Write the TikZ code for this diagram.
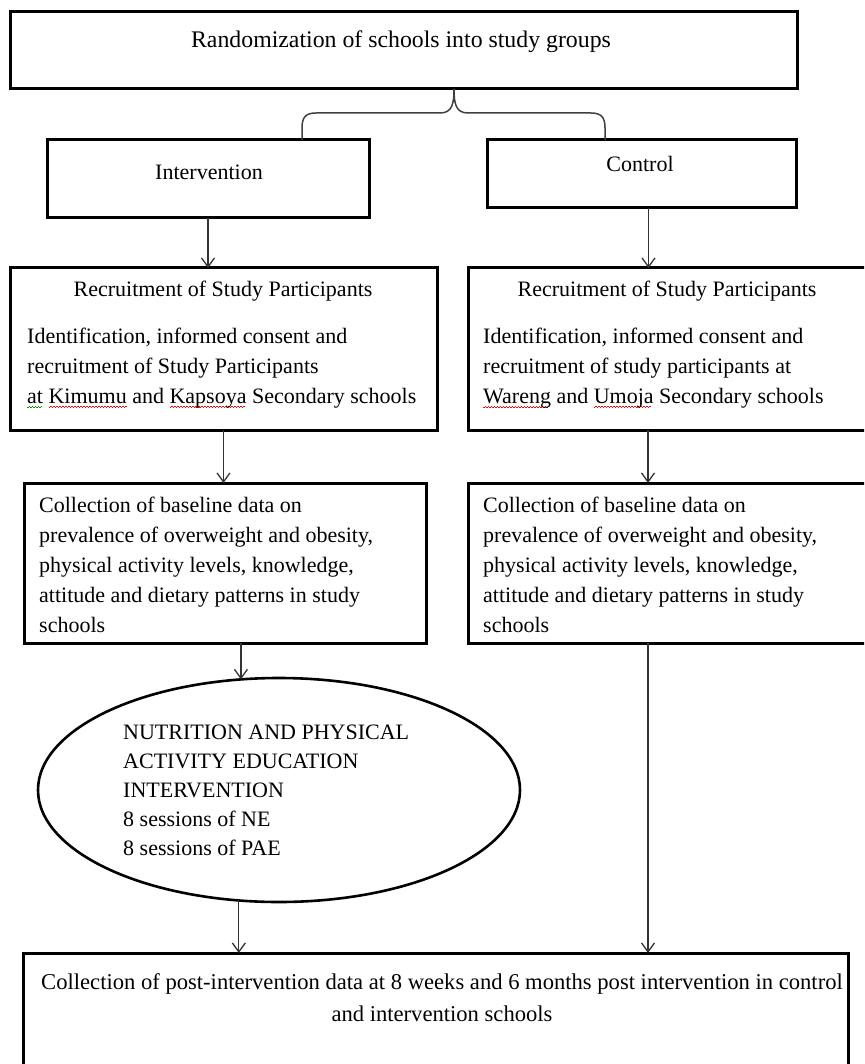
\documentclass[tikz,border=0pt]{standalone}
\usepackage{fontspec}
\setmainfont{Liberation Serif}
\usetikzlibrary{arrows.meta,shapes.geometric}

% wavy proofing underline in a given colour
\newsavebox\spellbox
\newcommand\spellmark[2]{\sbox\spellbox{#2}\rlap{\textcolor{#1}{\leaders\hbox{\rule[-5pt]{1.5pt}{1.1pt}\rule[-3.9pt]{1.5pt}{1.1pt}}\hskip\wd\spellbox}}\usebox\spellbox}

\begin{document}
\begin{tikzpicture}[x=1pt,y=-1pt,
  box/.style={draw=black, line width=3pt, inner sep=0pt, outer sep=0pt},
  oval/.style={draw=black, ellipse, line width=2.6pt, inner sep=0pt, outer sep=0pt},
  txt/.style={inner sep=0pt, font=\fontsize{22}{30}\selectfont},
  arr/.style={draw=black!80, line width=1.3pt, -{Straight Barb[length=9pt,width=13pt]}},
  brace/.style={draw=black!75, line width=1.5pt}]
\useasboundingbox (0,0) rectangle (864,1064);
\clip (0,0) rectangle (864,1064);

% top level
\node[box, minimum width=787pt, minimum height=77pt] (rand) at (403.5,50.5) {};
\node[txt, font=\fontsize{23.8}{30}\selectfont] (randt) at (401,42) {Randomization of schools into study groups};

% study arms
\node[box, minimum width=322pt, minimum height=78pt] (intv) at (208,179) {};
\node[txt] (intvt) at (209,172) {Intervention};
\node[box, minimum width=309pt, minimum height=68pt] (ctrl) at (641.5,174) {};
\node[txt] (ctrlt) at (640,164) {Control};

% brace splitting into the two arms
\coordinate (bc) at (454,89);
\coordinate (bl) at (302,140);
\coordinate (br) at (605,140);
\draw[brace] (bc) .. controls (454,104) and (452,113) .. (440,113) -- (316,113)
  .. controls (305,113) and (302,118) .. (302,128) -- (bl);
\draw[brace] (bc) .. controls (454,104) and (456,113) .. (468,113) -- (591,113)
  .. controls (602,113) and (605,118) .. (605,128) -- (br);

% recruitment
\node[box, minimum width=427pt, minimum height=162pt] (rec1) at (223.5,349) {};
\node[txt] (rec1h) at (223,291) {Recruitment of Study Participants};
\node[txt, anchor=west, align=left] (rec1b) at (27,368)
  {Identification, informed consent and\\recruitment of Study Participants\\\spellmark{green!60!black}{at} \spellmark{red}{Kimumu} and \spellmark{red}{Kapsoya} Secondary schools};
\node[box, minimum width=400pt, minimum height=162pt] (rec2) at (668,349) {};
\node[txt] (rec2h) at (667,291) {Recruitment of Study Participants};
\node[txt, anchor=west, align=left] (rec2b) at (483,368)
  {Identification, informed consent and\\recruitment of study participants at\\\spellmark{red}{Wareng} and \spellmark{red}{Umoja} Secondary schools};

% baseline data
\node[box, minimum width=402pt, minimum height=160pt] (coll1) at (225,563) {};
\node[txt, anchor=west, align=left] (coll1t) at (39,565)
  {Collection of baseline data on\\prevalence of overweight and obesity,\\physical activity levels, knowledge,\\attitude and dietary patterns in study\\schools};
\node[box, minimum width=400pt, minimum height=160pt] (coll2) at (668,563) {};
\node[txt, anchor=west, align=left] (coll2t) at (483,565)
  {Collection of baseline data on\\prevalence of overweight and obesity,\\physical activity levels, knowledge,\\attitude and dietary patterns in study\\schools};

% intervention
\node[oval, minimum width=482pt, minimum height=224pt] (nut) at (279,790) {};
\node[txt, anchor=west, align=left, font=\fontsize{22}{29}\selectfont] (nutt) at (123,790)
  {NUTRITION AND PHYSICAL\\ACTIVITY EDUCATION\\INTERVENTION\\8 sessions of NE\\8 sessions of PAE};

% follow-up
\node[box, minimum width=825pt, minimum height=150pt] (post) at (435.5,1028) {};
\node[txt, align=center, font=\fontsize{22.6}{32}\selectfont] (postt) at (442,998)
  {Collection of post-intervention data at 8 weeks and 6 months post intervention in control\\and intervention schools};

% connectors
\draw[arr] (intv.south) -- (intv.south |- rec1.north);
\draw[arr] ([xshift=7pt]ctrl.south) -- ([xshift=7pt]ctrl.south |- rec2.north);
\draw[arr] (rec1.south) -- (rec1.south |- coll1.north);
\draw[arr] ([xshift=-20pt]rec2.south) -- ([xshift=-20pt]rec2.south |- coll2.north);
\draw[arr] (nut.109.4 |- coll1.south) -- (nut.109.4);
\draw[arr] (nut.250.6) -- (nut.250.6 |- post.north);
\draw[arr] ([xshift=-20pt]coll2.south) -- ([xshift=-20pt]coll2.south |- post.north);
\end{tikzpicture}
\end{document}
